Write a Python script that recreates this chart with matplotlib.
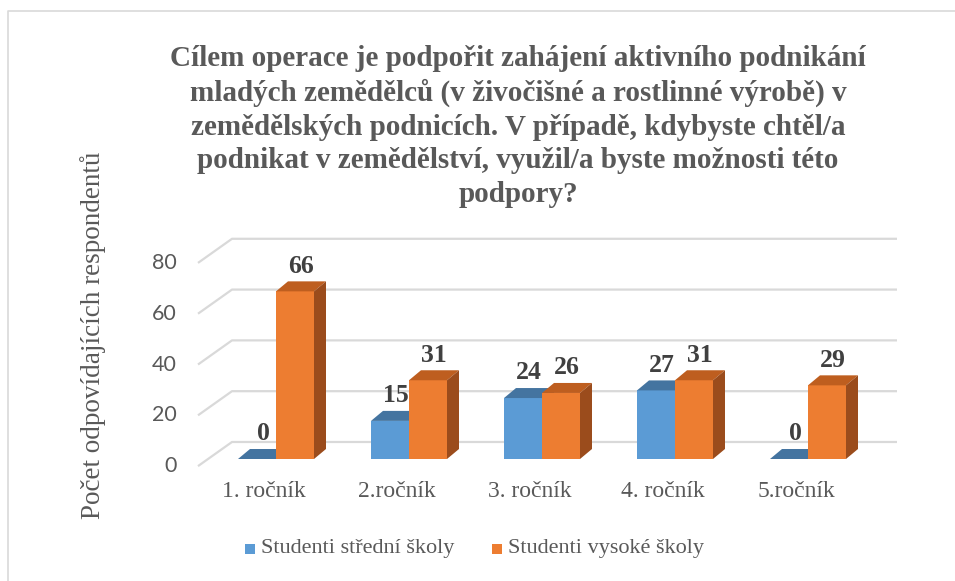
import numpy as np
import matplotlib.pyplot as plt
from matplotlib.patches import Polygon, Rectangle

categories = ['1. ročník', '2.ročník', '3. ročník', '4. ročník', '5.ročník']
stredni = [0, 15, 24, 27, 0]
vysoke = [66, 31, 26, 31, 29]
series_names = ['Studenti střední školy', 'Studenti vysoké školy']
yticks = [0, 20, 40, 60, 80]
title = ('Cílem operace je podpořit zahájení aktivního podnikání\n'
         'mladých zemědělců (v živočišné a rostlinné výrobě) v\n'
         'zemědělských podnicích. V případě, kdybyste chtěl/a\n'
         'podnikat v zemědělství, využil/a byste možnosti této\n'
         'podpory?')
ylabel = 'Počet odpovídajících respondentů'

W, H = 955, 581
SERIF = 'Liberation Serif'
GREY = '#595959'

# colours: front, top, side
BLUE = ('#5B9BD5', '#4474A0', '#3E6B94')
ORANGE = ('#ED7D31', '#BE5E1F', '#9B4C1C')

fig = plt.figure(figsize=(W / 100, H / 100), dpi=100)

# axes laid out in pixels: category i -> 276 + 133 i, value v -> 459 - 2.54 v
px0, px1, py0, py1 = 150, 930, 500, 210
ax = fig.add_axes([px0 / W, 1 - py0 / H, (px1 - px0) / W, (py0 - py1) / H])
ax.set_xlim((px0 - 276) / 133, (px1 - 276) / 133)
ax.set_ylim((459 - py0) / 2.54, (459 - py1) / 2.54)
ax.axis('off')

# walls / gridlines
wall_x0, wall_x1, floor_x = (232 - 276) / 133, (897 - 276) / 133, (198 - 276) / 133
back_dy, front_dy = 6.7, -2.8
for v in yticks:
    ax.plot([floor_x, wall_x0, wall_x1], [v + front_dy, v + back_dy, v + back_dy],
            color='#D9D9D9', lw=1.6, zorder=1, solid_capstyle='butt')
    ax.text((177 - 276) / 133, v + front_dy, str(v), ha='right', va='center',
            fontsize=15.5, color=GREY, family='Lato')

bw = 38 / 133
ddx, ddy = 12 / 133, 10 / 2.54
x = np.arange(len(categories))


def bar3d(x0, v, cols):
    ax.add_patch(Rectangle((x0, 0), bw, v, facecolor=cols[0], edgecolor='none', zorder=3))
    ax.add_patch(Polygon([(x0, v), (x0 + bw, v), (x0 + bw + ddx, v + ddy), (x0 + ddx, v + ddy)],
                         closed=True, facecolor=cols[1], edgecolor='none', zorder=3))
    ax.add_patch(Polygon([(x0 + bw, 0), (x0 + bw + ddx, ddy), (x0 + bw + ddx, v + ddy), (x0 + bw, v)],
                         closed=True, facecolor=cols[2], edgecolor='none', zorder=3))
    ax.text(x0 + bw / 2 + ddx / 2, v + ddy + 1.4, str(v), ha='center', va='bottom',
            fontsize=18.5, fontweight='bold', color='#404040', family=SERIF, zorder=4)


for i in x:
    bar3d(i - bw, stredni[i], BLUE)
    bar3d(i, vysoke[i], ORANGE)
    ax.text(i - 0.09, -12.6, categories[i], ha='center', va='center',
            fontsize=17, color=GREY, family=SERIF)

# title, axis label, legend
fig.text(518 / W, 1 - 45 / H, title, ha='center', va='top', fontsize=21, fontweight='bold',
         color=GREY, family=SERIF, linespacing=1.31)
fig.text(93 / W, 1 - 335 / H, ylabel, ha='center', va='center', rotation=90,
         fontsize=19.5, color=GREY, family=SERIF)

for sx, tx, col, name in [(245, 261, BLUE[0], series_names[0]), (492, 508, ORANGE[0], series_names[1])]:
    fig.patches.append(Rectangle((sx / W, 1 - 554 / H), 10 / W, 10 / H, transform=fig.transFigure,
                                 facecolor=col, edgecolor='none'))
    fig.text(tx / W, 1 - 549 / H, name, ha='left', va='center', fontsize=16, color=GREY, family=SERIF)

# chart border
fig.add_artist(plt.Line2D([8 / W, 8 / W, 1], [0, 1 - 11 / H, 1 - 11 / H], transform=fig.transFigure,
                          color='#D9D9D9', lw=1.2))

fig.savefig('out.png', dpi=100)
